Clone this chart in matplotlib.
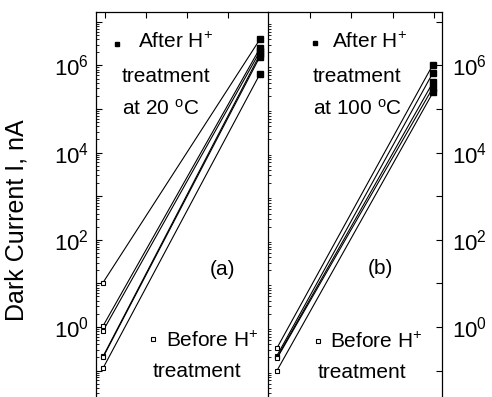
import numpy as np
import matplotlib
matplotlib.use("Agg")
import matplotlib.pyplot as plt
from matplotlib.ticker import FixedLocator, NullFormatter

plt.rcParams['font.family'] = ['Liberation Sans', 'DejaVu Sans']
plt.rcParams['mathtext.fontset'] = 'custom'
plt.rcParams['mathtext.rm'] = 'Liberation Sans'
plt.rcParams['mathtext.it'] = 'Liberation Sans'

# data (dark current in nA), before -> after H+ treatment
before_20 = [10.4, 1.05, 0.81, 0.21, 0.20, 0.113]
after_20 = [4.0e6, 2.5e6, 2.1e6, 1.8e6, 1.6e6, 6.4e5]
before_100 = [0.33, 0.22, 0.20, 0.19, 0.10]
after_100 = [1.05e6, 6.8e5, 4.1e5, 3.1e5, 2.4e5]
stage = [0, 1]  # 0 = before, 1 = after

decades = np.arange(-1, 8)
ytick_labels = [r'$\mathdefault{10^{%d}}$' % d if d % 2 == 0 else '' for d in decades]

fig = plt.figure(figsize=(4.92, 3.97), dpi=100)
axA = fig.add_axes([96/492, 0.0, 172/492, 385/397])
axB = fig.add_axes([268/492, 0.0, 174/492, 385/397])

ylim = (10**-1.607, 10**7.226)


def draw(ax, before, after):
    for b, a in zip(before, after):
        ax.plot(stage, [b, a], color='black', lw=0.8)
    ax.plot([stage[0]] * len(before), before, ls='none', marker='s', ms=3.2,
            mfc='white', mec='black', mew=0.8)
    ax.plot([stage[1]] * len(after), after, ls='none', marker='s', ms=4.2,
            mfc='black', mec='black')
    ax.set_yscale('log')
    ax.set_ylim(*ylim)
    ax.set_yticks(10.0 ** decades, ytick_labels)
    minors = [m * 10.0**d for d in range(-2, 8) for m in range(2, 10)]
    ax.yaxis.set_minor_locator(FixedLocator([v for v in minors if ylim[0] < v < ylim[1]]))
    ax.yaxis.set_minor_formatter(NullFormatter())
    ax.tick_params(which='both', direction='in', labelsize=16)
    ax.tick_params(which='major', length=4, width=0.8)
    ax.tick_params(which='minor', length=2, width=0.6)
    ax.tick_params(axis='x', bottom=False, top=True, labelbottom=False, labeltop=False,
                   length=4)
    for s in ax.spines.values():
        s.set_linewidth(0.9)
    ax.spines['bottom'].set_visible(False)


draw(axA, before_20, after_20)
axA.set_xlim(-0.0446, 1.051)
axA.set_xticks(np.linspace(0.0127, 0.796, 4))
axA.spines['right'].set_visible(False)
axA.tick_params(axis='y', left=True, right=False, pad=5)
axA.set_ylabel('Dark Current I, nA', fontsize=18)
axA.yaxis.set_label_coords(-0.39, 0.46)

draw(axB, before_100, after_100)
axB.set_xlim(-0.0577, 1.058)
axB.set_xticks(np.linspace(0.212, 1.006, 4))
axB.tick_params(axis='y', left=False, right=True, labelleft=False, labelright=True, pad=7)

fs = 15
deg = r'$^{\mathrm{o}}$'
plus = r'$^{+}$'
# panel (a) annotations
t = axA.transAxes
axA.plot([0.122], [0.918], marker='s', ms=3.5, color='black', transform=t, clip_on=False)
axA.text(0.244, 0.906, 'After H' + plus, transform=t, fontsize=fs, va='baseline')
axA.text(0.151, 0.818, 'treatment', transform=t, fontsize=fs, va='baseline')
axA.text(0.151, 0.732, 'at 20 ' + deg + 'C', transform=t, fontsize=fs, va='baseline')
axA.text(0.733, 0.330, '(a)', transform=t, fontsize=fs, ha='center', va='center')
axA.plot([0.331], [0.151], marker='s', ms=3.2, mfc='white', mec='black', mew=0.8,
         transform=t, clip_on=False)
axA.text(0.407, 0.130, 'Before H' + plus, transform=t, fontsize=fs, va='baseline')
axA.text(0.331, 0.052, 'treatment', transform=t, fontsize=fs, va='baseline')

# panel (b) annotations
t = axB.transAxes
axB.plot([0.270], [0.919], marker='s', ms=3.5, color='black', transform=t, clip_on=False)
axB.text(0.368, 0.906, 'After H' + plus, transform=t, fontsize=fs, va='baseline')
axB.text(0.259, 0.818, 'treatment', transform=t, fontsize=fs, va='baseline')
axB.text(0.259, 0.732, 'at 100 ' + deg + 'C', transform=t, fontsize=fs, va='baseline')
axB.text(0.649, 0.335, '(b)', transform=t, fontsize=fs, ha='center', va='center')
axB.plot([0.287], [0.145], marker='s', ms=3.2, mfc='white', mec='black', mew=0.8,
         transform=t, clip_on=False)
axB.text(0.356, 0.127, 'Before H' + plus, transform=t, fontsize=fs, va='baseline')
axB.text(0.287, 0.049, 'treatment', transform=t, fontsize=fs, va='baseline')

fig.savefig('out.png', dpi=100)
